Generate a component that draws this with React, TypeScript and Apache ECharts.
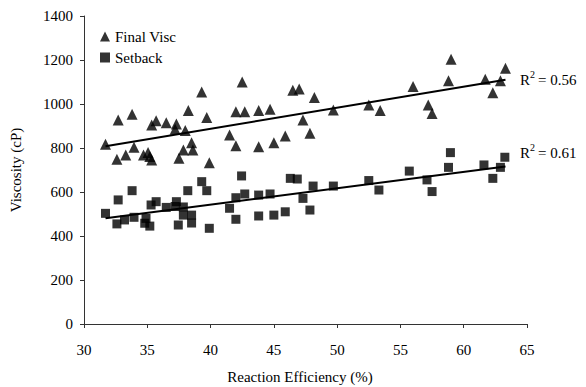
import React, { useEffect, useRef } from "react";
import * as echarts from "echarts";

const xTicks = [30, 35, 40, 45, 50, 55, 60, 65];
const yTicks = [0, 200, 400, 600, 800, 1000, 1200, 1400];

const finalVisc: [number, number][] = [
  [31.7, 817], [32.6, 749], [33.3, 768], [33.95, 803], [32.7, 927], [33.8, 953],
  [34.7, 768], [35.06, 779], [35.2, 761], [35.35, 745], [35.35, 905], [35.7, 924],
  [36.5, 915], [37.3, 909], [37.2, 885], [38.0, 879], [37.5, 753], [37.85, 791],
  [38.24, 970], [39.3, 1055], [39.7, 939], [38.5, 824], [38.6, 791], [39.9, 733],
  [41.5, 859], [42.0, 965], [42.5, 1100], [42.7, 965], [43.8, 970], [44.7, 976],
  [42.0, 810], [43.8, 806], [45.0, 824], [45.9, 855], [46.5, 1063], [47.0, 1068],
  [47.3, 927], [47.85, 867], [48.2, 1030], [49.7, 973], [52.5, 995], [53.4, 970],
  [56.0, 1080], [57.2, 995], [57.5, 957], [59.0, 1203], [58.8, 1106], [61.7, 1112],
  [62.3, 1051], [62.9, 1106], [63.3, 1162],
];

const setback: [number, number][] = [
  [31.7, 503], [32.7, 564], [33.8, 606], [32.6, 455], [33.2, 473], [33.95, 485],
  [34.8, 458], [35.2, 445], [34.9, 480], [35.3, 541], [35.7, 556], [36.5, 530],
  [37.3, 556], [37.2, 534], [37.45, 450], [38.2, 606], [37.85, 495], [38.5, 495],
  [38.5, 459], [37.85, 532], [39.3, 647], [39.7, 606], [39.9, 435], [41.5, 526],
  [42.0, 574], [42.0, 476], [42.45, 673], [42.7, 591], [43.8, 586], [43.8, 491],
  [44.7, 591], [45.0, 495], [45.9, 510], [46.3, 662], [46.85, 659], [47.3, 571],
  [47.85, 518], [48.1, 627], [49.7, 627], [52.5, 652], [53.3, 609], [55.7, 695],
  [57.1, 655], [57.5, 602], [58.8, 712], [58.95, 779], [61.6, 723], [62.3, 662],
  [62.9, 712], [63.25, 758],
];

const finalTrend: [number, number][] = [[31.7, 808], [63.3, 1110]];
const setbackTrend: [number, number][] = [[31.7, 481], [63.3, 716]];

const seriesNames = ["Final Visc", "Setback"];
const r2Labels = ["0.56", "0.61"];

const FONT = "Liberation Serif";

export default function App() {
  const ref = useRef<HTMLDivElement>(null);
  useEffect(() => {
    if (!ref.current) return;
    const chart = echarts.init(ref.current, undefined, { renderer: "svg" });
    const axisLine = { show: true, lineStyle: { color: "#333", width: 1 } };
    chart.setOption({
      animation: false,
      backgroundColor: "#fff",
      textStyle: { fontFamily: FONT },
      grid: { left: 84, right: 59, top: 16, bottom: 63 },
      legend: {
        orient: "vertical",
        left: 95,
        top: 24,
        itemWidth: 10,
        itemHeight: 10,
        itemGap: 6,
        data: [
          { name: seriesNames[0], icon: "triangle" },
          { name: seriesNames[1], icon: "rect" },
        ],
        textStyle: { fontFamily: FONT, fontSize: 15, color: "#000" },
      },
      xAxis: {
        type: "value",
        min: xTicks[0],
        max: xTicks[xTicks.length - 1],
        interval: 5,
        axisLine,
        axisTick: { show: true, length: 4, lineStyle: { color: "#333" } },
        axisLabel: { fontFamily: FONT, fontSize: 15, color: "#000", margin: 18, formatter: (v: number) => String(v) },
        splitLine: { show: false },
      },
      yAxis: {
        type: "value",
        min: yTicks[0],
        max: yTicks[yTicks.length - 1],
        interval: 200,
        axisLine,
        axisTick: { show: true, length: 4, lineStyle: { color: "#333" } },
        axisLabel: { fontFamily: FONT, fontSize: 15, color: "#000", margin: 11, formatter: (v: number) => String(v) },
        splitLine: { show: false },
      },
      series: [
        {
          name: seriesNames[0],
          type: "scatter",
          symbol: "triangle",
          symbolSize: 11,
          itemStyle: { color: "#000" },
          data: finalVisc,
        },
        {
          name: seriesNames[1],
          type: "scatter",
          symbol: "rect",
          symbolSize: 9,
          itemStyle: { color: "#000" },
          data: setback,
        },
        {
          name: "trend1",
          type: "line",
          showSymbol: false,
          silent: true,
          lineStyle: { color: "#000", width: 2 },
          data: finalTrend,
        },
        {
          name: "trend2",
          type: "line",
          showSymbol: false,
          silent: true,
          lineStyle: { color: "#000", width: 2 },
          data: setbackTrend,
        },
      ],
      graphic: [
        {
          type: "text",
          x: 16,
          y: 170,
          rotation: Math.PI / 2,
          style: { text: "Viscosity (cP)", fontFamily: FONT, fontSize: 15, fill: "#000", align: "center", verticalAlign: "middle" },
        },
        {
          type: "text",
          x: 300,
          y: 377,
          style: { text: "Reaction Efficiency (%)", fontFamily: FONT, fontSize: 15, fill: "#000", align: "center", verticalAlign: "middle" },
        },
        ...[80, 153].flatMap((yy, i) => [
          { type: "text", x: 520, y: yy, style: { text: "R", fontFamily: FONT, fontSize: 15, fill: "#000", verticalAlign: "middle" } },
          { type: "text", x: 530, y: yy - 6, style: { text: "2", fontFamily: FONT, fontSize: 10, fill: "#000", verticalAlign: "middle" } },
          { type: "text", x: 538, y: yy, style: { text: "= " + r2Labels[i], fontFamily: FONT, fontSize: 15, fill: "#000", verticalAlign: "middle" } },
        ]),
      ],
    });
    return () => chart.dispose();
  }, []);
  return (
    <div style={{ position: "fixed", left: 0, top: 0, width: 586, height: 387, background: "#fff" }}>
      <div ref={ref} style={{ width: 586, height: 387 }} />
    </div>
  );
}
